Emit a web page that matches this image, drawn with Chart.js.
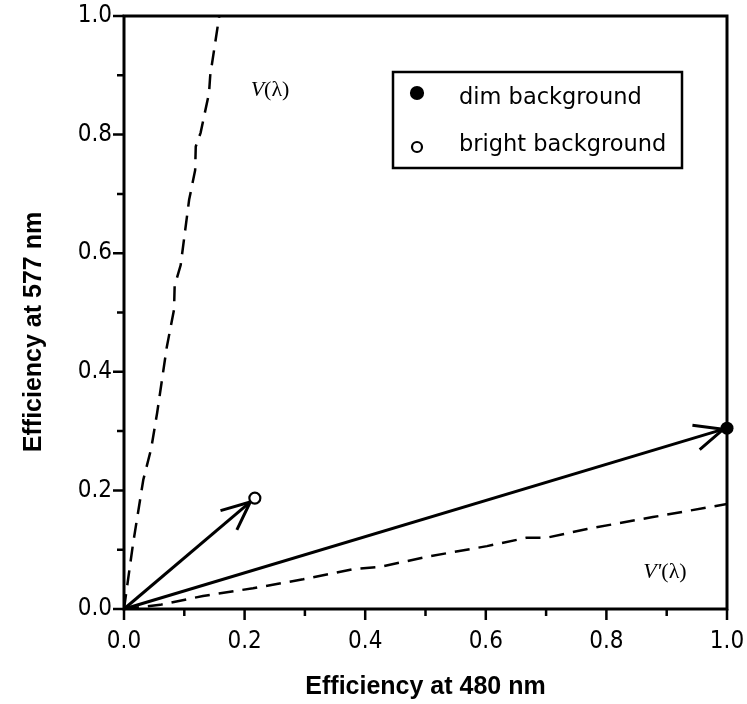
<!DOCTYPE html>
<html>
<head>
<meta charset="utf-8">
<script src="https://cdn.jsdelivr.net/npm/chart.js@4"></script>
<style>
  html, body { margin: 0; padding: 0; background: #fff; }
  #wrap { width: 747px; height: 704px; }
</style>
</head>
<body>
<div id="wrap"><canvas id="myChart"></canvas></div>
<script>
// V(lambda) curve
const vX = [0, 0.005, 0.015, 0.032, 0.045, 0.055, 0.071, 0.083, 0.084, 0.094, 0.108, 0.118, 0.119, 0.127, 0.141, 0.143, 0.158];
const vY = [0, 0.037, 0.11, 0.218, 0.27, 0.331, 0.442, 0.505, 0.545, 0.58, 0.69, 0.74, 0.78, 0.803, 0.87, 0.9, 1.0];
// V'(lambda) curve
const vpX = [0, 0.06, 0.131, 0.214, 0.297, 0.38, 0.424, 0.507, 0.602, 0.667, 0.70, 0.768, 0.877, 1.0];
const vpY = [0, 0.007, 0.022, 0.035, 0.05, 0.067, 0.071, 0.089, 0.106, 0.12, 0.12, 0.135, 0.155, 0.177];
// arrows from origin to measured points
const dimX = [0, 1.0];
const dimY = [0, 0.305];
const brightX = [0, 0.217];
const brightY = [0, 0.187];
const tickLabels = ["0.0", "0.2", "0.4", "0.6", "0.8", "1.0"];

const toXY = (xs, ys) => xs.map((x, i) => ({ x: x, y: ys[i] }));
const tickFont = { family: "'Liberation Sans Narrow', 'DejaVu Sans Condensed', sans-serif", size: 24 };
const labelCb = (v, i) => (i % 2 === 0 ? tickLabels[i / 2] : "");

const decor = {
  id: "decor",
  beforeDatasetsDraw(chart) {
    const ctx = chart.ctx, a = chart.chartArea;
    const xs = chart.scales.x, ys = chart.scales.y;
    ctx.save();
    ctx.strokeStyle = "#000";
    ctx.lineWidth = 3;
    ctx.strokeRect(a.left, a.top, a.right - a.left, a.bottom - a.top);
    ctx.lineWidth = 2.5;
    ctx.beginPath();
    xs.ticks.forEach((t, i) => {
      const px = xs.getPixelForValue(t.value);
      const len = i % 2 === 0 ? 11 : 7;
      ctx.moveTo(px, a.bottom);
      ctx.lineTo(px, a.bottom + len);
    });
    ys.ticks.forEach((t, i) => {
      const py = ys.getPixelForValue(t.value);
      const len = i % 2 === 0 ? 11 : 7;
      ctx.moveTo(a.left, py);
      ctx.lineTo(a.left - len, py);
    });
    ctx.stroke();
    ctx.restore();
  },
  afterDatasetsDraw(chart) {
    const ctx = chart.ctx;
    const xs = chart.scales.x, ys = chart.scales.y;
    ctx.save();
    // arrow heads on the two solid vectors
    [0, 1].forEach(di => {
      const pts = chart.getDatasetMeta(di).data;
      const p0 = pts[0], p1 = pts[pts.length - 1];
      const ang = Math.atan2(p1.y - p0.y, p1.x - p0.x);
      const back = di === 0 ? 4 : 6;
      const tx = p1.x - back * Math.cos(ang), ty = p1.y - back * Math.sin(ang);
      ctx.strokeStyle = "#000";
      ctx.lineWidth = 3;
      ctx.beginPath();
      [-0.42, 0.42].forEach(d => {
        ctx.moveTo(tx, ty);
        ctx.lineTo(tx - 31 * Math.cos(ang + d), ty - 31 * Math.sin(ang + d));
      });
      ctx.stroke();
    });
    // curve labels
    ctx.fillStyle = "#000";
    ctx.textBaseline = "alphabetic";
    const lab = (x, y, main) => {
      let px = xs.getPixelForValue(x), py = ys.getPixelForValue(y);
      ctx.font = "italic 22px 'Liberation Serif', serif";
      ctx.fillText(main, px, py);
      px += ctx.measureText(main).width;
      ctx.font = "22px 'Liberation Serif', serif";
      ctx.fillText("(λ)", px, py);
    };
    lab(0.21, 0.865, "V");
    lab(0.861, 0.053, "V'");
    // legend box
    ctx.lineWidth = 2.5;
    ctx.strokeRect(393, 72, 289, 96);
    ctx.font = "22.5px 'DejaVu Sans', sans-serif";
    const rows = [{ y: 104, cy: 93, ds: 0 }, { y: 151, cy: 147, ds: 1 }];
    rows.forEach(r => {
      const d = chart.data.datasets[r.ds];
      ctx.beginPath();
      ctx.arc(417, r.cy, r.ds === 0 ? 6 : 5, 0, Math.PI * 2);
      ctx.fillStyle = d.pointBackgroundColor;
      ctx.fill();
      ctx.lineWidth = 2.2;
      ctx.strokeStyle = "#000";
      ctx.stroke();
      ctx.fillStyle = "#000";
      ctx.fillText(d.label, 459, r.y);
    });
    // y axis title
    ctx.save();
    ctx.translate(34, 332);
    ctx.rotate(-Math.PI / 2);
    ctx.font = "bold 25px 'Liberation Sans', Arial, sans-serif";
    ctx.textAlign = "center";
    ctx.textBaseline = "middle";
    ctx.fillText("Efficiency at 577 nm", 0, 0);
    ctx.restore();
    ctx.restore();
  }
};

new Chart(document.getElementById("myChart").getContext("2d"), {
  type: "scatter",
  data: {
    datasets: [
      {
        label: "dim background",
        data: toXY(dimX, dimY),
        showLine: true,
        borderColor: "#000",
        borderWidth: 3,
        pointRadius: [0, 6.5],
        pointBackgroundColor: "#000",
        pointBorderColor: "#000",
        pointBorderWidth: 0,
        clip: false
      },
      {
        label: "bright background",
        data: toXY(brightX, brightY),
        showLine: true,
        borderColor: "#000",
        borderWidth: 3,
        pointRadius: [0, 5.5],
        pointBackgroundColor: "#fff",
        pointBorderColor: "#000",
        pointBorderWidth: 2.2,
        clip: false
      },
      {
        label: "V",
        data: toXY(vX, vY),
        showLine: true,
        borderColor: "#000",
        borderWidth: 2.5,
        borderDash: [15, 9],
        pointRadius: 0
      },
      {
        label: "V'",
        data: toXY(vpX, vpY),
        showLine: true,
        borderColor: "#000",
        borderWidth: 2.5,
        borderDash: [15, 9],
        pointRadius: 0
      }
    ]
  },
  options: {
    responsive: true,
    maintainAspectRatio: false,
    animation: false,
    layout: { padding: { top: 16, right: 20, left: 0, bottom: 0 } },
    plugins: { legend: { display: false }, tooltip: { enabled: false } },
    scales: {
      x: {
        type: "linear",
        min: 0,
        max: 1,
        grid: { display: false, drawTicks: false },
        border: { display: false },
        ticks: { stepSize: 0.1, autoSkip: false, maxRotation: 0, padding: 18, color: "#000", font: tickFont, callback: labelCb },
        title: {
          display: true,
          text: "Efficiency at 480 nm",
          color: "#000",
          font: { family: "'Liberation Sans', Arial, sans-serif", size: 25, weight: "bold" },
          padding: { top: 0, bottom: 2 }
        },
        afterFit: s => { s.height = 95; s.paddingLeft = 0; s.paddingRight = 0; }
      },
      y: {
        type: "linear",
        min: 0,
        max: 1,
        grid: { display: false, drawTicks: false },
        border: { display: false },
        ticks: { stepSize: 0.1, autoSkip: false, padding: 12, color: "#000", font: tickFont, callback: labelCb },
        afterFit: s => { s.width = 124; s.paddingTop = 0; s.paddingBottom = 0; }
      }
    }
  },
  plugins: [decor]
});
</script>
</body>
</html>
